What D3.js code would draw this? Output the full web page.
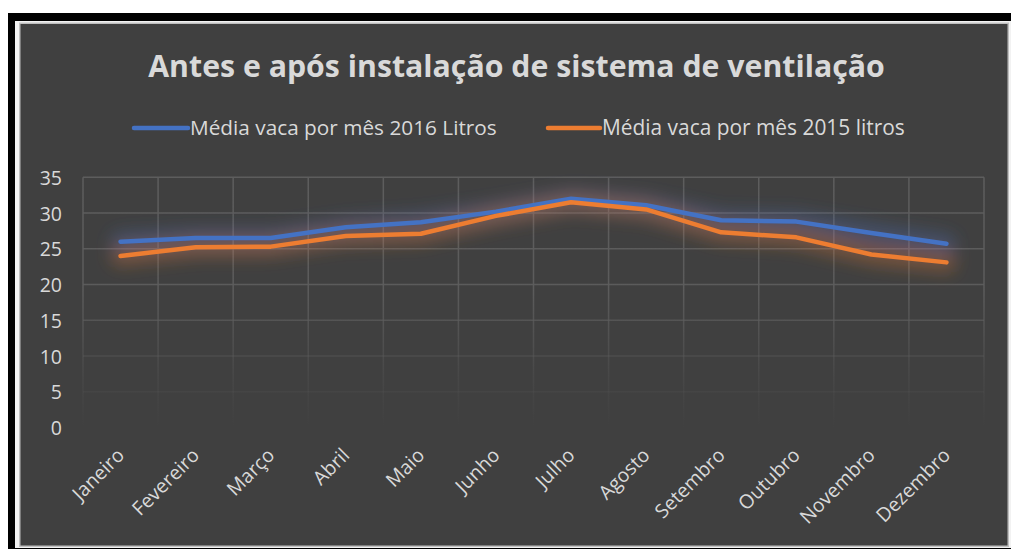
<!DOCTYPE html>
<html>
<head>
<meta charset="utf-8">
<script src="https://cdn.jsdelivr.net/npm/d3@7"></script>
<style>
    body { margin: 0; background: #fff; }
    svg text { font-family: "Open Sans", "Noto Sans", sans-serif; }
</style>
</head>
<body>
<div id="chart"></div>
<script>
// data
var months = ["Janeiro", "Fevereiro", "Março", "Abril", "Maio", "Junho",
    "Julho", "Agosto", "Setembro", "Outubro", "Novembro", "Dezembro"];
var media2016 = [26.0, 26.5, 26.5, 28.0, 28.7, 30.2, 32.0, 31.1, 29.0, 28.8, 27.2, 25.7];
var media2015 = [24.0, 25.2, 25.3, 26.8, 27.1, 29.6, 31.5, 30.5, 27.3, 26.6, 24.2, 23.1];
var yTicks = [0, 5, 10, 15, 20, 25, 30, 35];
var seriesNames = ["Média vaca por mês 2016 Litros", "Média vaca por mês 2015 litros"];
var title = "Antes e após instalação de sistema de ventilação";

var series = [
    {name: seriesNames[0], values: media2016, color: "#4472c4"},
    {name: seriesNames[1], values: media2015, color: "#ed7d31"}
];

var width = 1011, height = 549;
var plot = {left: 83, right: 984, top: 177.3, bottom: 427.5};
var textColor = "#d9d9d9";

var svg = d3.select("#chart").append("svg")
    .attr("width", width)
    .attr("height", height);

// frame around the chart (black border, light rim, dark area)
svg.append("rect").attr("x", 8).attr("y", 13).attr("width", width - 8).attr("height", height - 13).attr("fill", "#000");
svg.append("rect").attr("x", 15).attr("y", 21).attr("width", width - 15).attr("height", 527).attr("fill", "#f2f2f2");
svg.append("rect").attr("x", 19).attr("y", 22.5).attr("width", 990).attr("height", 524.5).attr("fill", "#bfbfbf");
svg.append("rect").attr("x", 20.5).attr("y", 24).attr("width", 987).attr("height", 521.5).attr("fill", "#404040");

var defs = svg.append("defs");

// grid fades out toward the bottom
var grad = defs.append("linearGradient")
    .attr("id", "gridFade")
    .attr("gradientUnits", "userSpaceOnUse")
    .attr("x1", 0).attr("x2", 0)
    .attr("y1", plot.top).attr("y2", plot.bottom);
grad.append("stop").attr("offset", "0%").attr("stop-color", "#5d5d5d").attr("stop-opacity", 1);
grad.append("stop").attr("offset", "45%").attr("stop-color", "#5d5d5d").attr("stop-opacity", 0.95);
grad.append("stop").attr("offset", "80%").attr("stop-color", "#5d5d5d").attr("stop-opacity", 0.25);
grad.append("stop").attr("offset", "100%").attr("stop-color", "#5d5d5d").attr("stop-opacity", 0);

defs.append("filter")
    .attr("id", "glow")
    .attr("x", "-20%").attr("y", "-150%")
    .attr("width", "140%").attr("height", "400%")
    .append("feGaussianBlur")
    .attr("stdDeviation", 8);

var x = d3.scaleBand()
    .domain(months)
    .range([plot.left, plot.right])
    .padding(0);

var y = d3.scaleLinear()
    .domain([0, 35])
    .range([plot.bottom, plot.top]);

// gridlines
var grid = svg.append("g");
grid.selectAll(".hgrid")
    .data(yTicks)
    .enter().append("line")
    .attr("class", "hgrid")
    .attr("x1", plot.left).attr("x2", plot.right)
    .attr("y1", function (d) { return y(d); })
    .attr("y2", function (d) { return y(d) + 0.01; })
    .attr("stroke", "url(#gridFade)")
    .attr("stroke-width", 1.5);

var edges = months.map(function (m) { return x(m); }).concat([x(months[months.length - 1]) + x.bandwidth()]);
grid.selectAll(".vgrid")
    .data(edges)
    .enter().append("line")
    .attr("class", "vgrid")
    .attr("x1", function (d) { return d; })
    .attr("x2", function (d) { return d + 0.01; })
    .attr("y1", plot.top).attr("y2", plot.bottom)
    .attr("stroke", "url(#gridFade)")
    .attr("stroke-width", 1.5);

// y axis labels
var yAxis = svg.append("g")
    .attr("transform", "translate(" + plot.left + ",0)")
    .call(d3.axisLeft(y).tickValues(yTicks).tickSize(0).tickPadding(21));
yAxis.select(".domain").remove();
yAxis.selectAll("text")
    .attr("fill", textColor)
    .attr("font-size", 19.5)
    .attr("dy", "0.36em");

// x axis labels, rotated
var xAxis = svg.append("g")
    .attr("transform", "translate(0," + plot.bottom + ")")
    .call(d3.axisBottom(x).tickSize(0));
xAxis.select(".domain").remove();
xAxis.selectAll("text")
    .attr("fill", textColor)
    .attr("font-size", 19.5)
    .attr("text-anchor", "end")
    .attr("y", 0)
    .attr("dy", 0)
    .attr("transform", "translate(5,29) rotate(-45)");

// lines
var line = d3.line()
    .x(function (d, i) { return x(months[i]) + x.bandwidth() / 2; })
    .y(function (d) { return y(d); });

var glows = svg.append("g").attr("filter", "url(#glow)");
glows.selectAll("path")
    .data(series)
    .enter().append("path")
    .attr("d", function (d) { return line(d.values); })
    .attr("fill", "none")
    .attr("stroke", function (d) { return d.color; })
    .attr("stroke-width", 20)
    .attr("stroke-linejoin", "round")
    .attr("stroke-linecap", "round")
    .attr("opacity", 0.3);

svg.append("g").selectAll("path")
    .data(series)
    .enter().append("path")
    .attr("d", function (d) { return line(d.values); })
    .attr("fill", "none")
    .attr("stroke", function (d) { return d.color; })
    .attr("stroke-width", 4.5)
    .attr("stroke-linejoin", "round")
    .attr("stroke-linecap", "round");

// fit a text to a given width by scaling its font size
function fitWidth(sel, target) {
    var size = +sel.attr("font-size");
    var w = sel.node().getComputedTextLength();
    sel.attr("font-size", size * target / w);
}

// title
var titleText = svg.append("text")
    .attr("x", 516.5)
    .attr("y", 77)
    .attr("text-anchor", "middle")
    .attr("font-weight", "bold")
    .attr("font-size", 28)
    .attr("fill", textColor)
    .text(title);
fitWidth(titleText, 737);

// legend
var legendPos = [{x0: 134, x1: 188, tx: 190, w: 307}, {x0: 548, x1: 600, tx: 602, w: 303}];
var legend = svg.append("g");
series.forEach(function (s, i) {
    var p = legendPos[i];
    legend.append("line")
        .attr("x1", p.x0).attr("x2", p.x1)
        .attr("y1", 128).attr("y2", 128)
        .attr("stroke", s.color)
        .attr("stroke-width", 4.5)
        .attr("stroke-linecap", "round");
    var t = legend.append("text")
        .attr("x", p.tx)
        .attr("y", 134.5)
        .attr("font-size", 19)
        .attr("fill", textColor)
        .text(s.name);
    fitWidth(t, p.w);
});
</script>
</body>
</html>
